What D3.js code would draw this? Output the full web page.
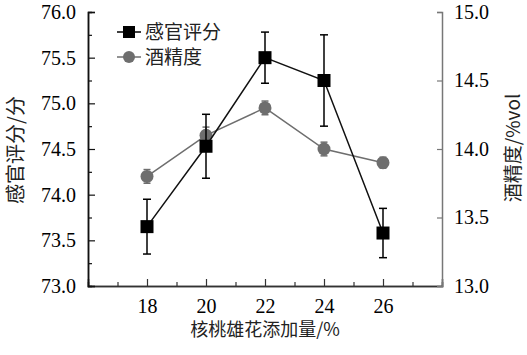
<!DOCTYPE html>
<html><head><meta charset="utf-8">
<script src="https://cdn.jsdelivr.net/npm/d3@7/dist/d3.min.js"></script>
<style>body{margin:0;background:#fff} svg text.num{font-family:"Liberation Serif","Times New Roman","DejaVu Serif",serif !important;font-size:20px}</style>
</head><body><svg id="c" width="527" height="355"></svg>
<script>
const categories = [18, 20, 22, 24, 26];
const sensory = [73.65, 74.53, 75.50, 75.25, 73.58];
const sensoryErr = [0.30, 0.35, 0.28, 0.50, 0.27];
const alcohol = [13.80, 14.10, 14.30, 14.00, 13.90];
const alcoholErr = [0.05, 0.06, 0.05, 0.05, 0.04];
const leftTicks = [73.0, 73.5, 74.0, 74.5, 75.0, 75.5, 76.0];
const rightTicks = [13.0, 13.5, 14.0, 14.5, 15.0];

const svg = d3.select("#c");
const L = 88, R = 442, T = 12, B = 286;
const x = d3.scaleLinear().domain([16, 28]).range([L, R]);
const yL = d3.scaleLinear().domain([73, 76]).range([B, T]);
const yR = d3.scaleLinear().domain([13, 15]).range([B, T]);
const cjkFont = "'Noto Sans CJK SC',sans-serif";
const gray = "#6e6e6e";

function numText(sel) {
  sel.attr("class", "num").attr("font-family", "Liberation Serif").attr("font-size", 20).attr("fill", "#000");
}

// bottom axis
const gx = svg.append("g").attr("transform", `translate(0,${B})`);
gx.call(d3.axisBottom(x).tickValues(categories).tickSize(-7).tickPadding(13).tickFormat(d3.format("d")));
gx.append("g").call(d3.axisBottom(x).tickValues([17,19,21,23,25,27]).tickSize(-4).tickFormat(""));
gx.attr("font-family", "Liberation Serif");
gx.selectAll(".domain").attr("stroke", "#333").attr("stroke-width", 1.5);
gx.selectAll("line").attr("stroke", "#333").attr("stroke-width", 1.2);
numText(gx.selectAll("text"));

// left axis
const gl = svg.append("g").attr("transform", `translate(${L},0)`);
gl.call(d3.axisLeft(yL).tickValues(leftTicks).tickSize(-7).tickPadding(12).tickFormat(d3.format(".1f")));
gl.append("g").call(d3.axisLeft(yL).tickValues([73.25,73.75,74.25,74.75,75.25,75.75]).tickSize(-4).tickFormat(""));
gl.attr("font-family", "Liberation Serif");
gl.selectAll(".domain").attr("stroke", "#111").attr("stroke-width", 1.5);
gl.selectAll("line").attr("stroke", "#111").attr("stroke-width", 1.2);
numText(gl.selectAll("text"));

// right axis
const gr = svg.append("g").attr("transform", `translate(${R},0)`);
gr.call(d3.axisRight(yR).tickValues(rightTicks).tickSize(-5).tickPadding(12).tickFormat(d3.format(".1f")));
gr.attr("font-family", "Liberation Serif");
gr.selectAll(".domain").attr("stroke", "#777").attr("stroke-width", 1.5);
gr.selectAll("line").attr("stroke", "#777").attr("stroke-width", 1.2);
numText(gr.selectAll("text"));

// alcohol series (gray)
const ad = categories.map((c, i) => ({x: c, y: alcohol[i], e: alcoholErr[i]}));
svg.append("path").datum(ad).attr("fill", "none").attr("stroke", gray).attr("stroke-width", 1.5)
  .attr("d", d3.line().x(d => x(d.x)).y(d => yR(d.y)));
const ae = svg.append("g").attr("stroke", gray).attr("stroke-width", 1.5);
ad.forEach(d => {
  ae.append("line").attr("x1", x(d.x)).attr("x2", x(d.x)).attr("y1", yR(d.y - d.e)).attr("y2", yR(d.y + d.e));
  [d.y - d.e, d.y + d.e].forEach(v => ae.append("line").attr("x1", x(d.x) - 3.5).attr("x2", x(d.x) + 3.5).attr("y1", yR(v)).attr("y2", yR(v)));
});
svg.append("g").selectAll("circle").data(ad).join("circle")
  .attr("cx", d => x(d.x)).attr("cy", d => yR(d.y)).attr("r", 6.5).attr("fill", gray);

// sensory series (black)
const sd = categories.map((c, i) => ({x: c, y: sensory[i], e: sensoryErr[i]}));
svg.append("path").datum(sd).attr("fill", "none").attr("stroke", "#111").attr("stroke-width", 1.5)
  .attr("d", d3.line().x(d => x(d.x)).y(d => yL(d.y)));
const se = svg.append("g").attr("stroke", "#000").attr("stroke-width", 1.5);
sd.forEach(d => {
  se.append("line").attr("x1", x(d.x)).attr("x2", x(d.x)).attr("y1", yL(d.y - d.e)).attr("y2", yL(d.y + d.e));
  [d.y - d.e, d.y + d.e].forEach(v => se.append("line").attr("x1", x(d.x) - 4).attr("x2", x(d.x) + 4).attr("y1", yL(v)).attr("y2", yL(v)));
});
svg.append("g").selectAll("rect").data(sd).join("rect")
  .attr("x", d => x(d.x) - 6.5).attr("y", d => yL(d.y) - 6.5).attr("width", 13).attr("height", 13).attr("fill", "#000");

// legend
const lg = svg.append("g");
const legendItems = [{name: "感官评分", c: "#000", shape: "sq"}, {name: "酒精度", c: gray, shape: "ci"}];
legendItems.forEach((it, i) => {
  const yy = 32 + i * 25;
  lg.append("line").attr("x1", 117).attr("x2", 141).attr("y1", yy).attr("y2", yy).attr("stroke", it.c).attr("stroke-width", 1.5);
  if (it.shape === "sq") lg.append("rect").attr("x", 123).attr("y", yy - 6).attr("width", 12).attr("height", 12).attr("fill", it.c);
  else lg.append("circle").attr("cx", 129).attr("cy", yy).attr("r", 6).attr("fill", it.c);
  lg.append("text").attr("x", 145).attr("y", yy).attr("dy", "0.36em").attr("font-family", cjkFont).attr("font-size", 19).attr("fill", "#222").text(it.name);
});

// axis titles
svg.append("text").attr("transform", `translate(16,150) rotate(-90)`).attr("text-anchor", "middle").attr("dy", "0.36em")
  .attr("font-family", cjkFont).attr("font-size", 20).attr("fill", "#222").text("感官评分/分");
svg.append("text").attr("transform", `translate(513,148) rotate(-90)`).attr("text-anchor", "middle").attr("dy", "0.36em")
  .attr("font-family", cjkFont).attr("font-size", 19).attr("fill", "#222").text("酒精度/%vol");
svg.append("text").attr("x", 265).attr("y", 330).attr("text-anchor", "middle").attr("dy", "0.36em")
  .attr("font-family", cjkFont).attr("font-size", 18).attr("fill", "#222").text("核桃雄花添加量/%");
</script></body></html>
